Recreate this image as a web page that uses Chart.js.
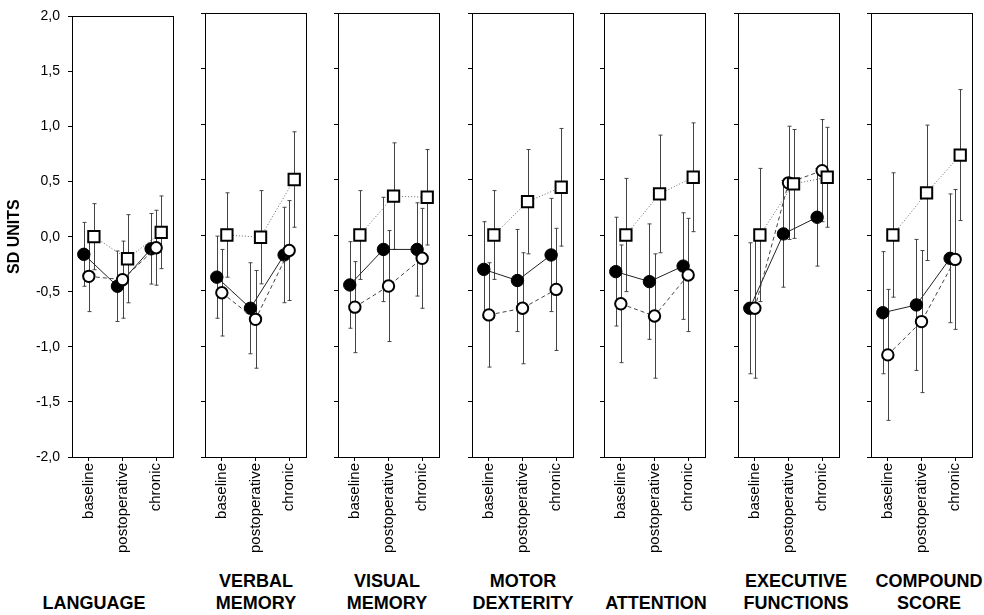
<!DOCTYPE html>
<html>
<head>
<meta charset="utf-8">
<script src="https://cdn.jsdelivr.net/npm/chart.js@4"></script>
<style>
  body { margin: 0; background: #fff; }
  #wrap { position: relative; width: 984px; height: 615px; overflow: hidden; }
  canvas { position: absolute; top: 0; }
  .dom { position: absolute; width: 160px; text-align: center; font: bold 18px "Liberation Sans", Arial, sans-serif; line-height: 22px; color: #000; }
</style>
</head>
<body>
<div id="wrap"></div>
<script>
const domains = [["LANGUAGE"], ["VERBAL", "MEMORY"], ["VISUAL", "MEMORY"], ["MOTOR", "DEXTERITY"], ["ATTENTION"], ["EXECUTIVE", "FUNCTIONS"], ["COMPOUND", "SCORE"]];
const phases = ["baseline", "postoperative", "chronic"];
const yTicks = [-2, -1.5, -1, -0.5, 0, 0.5, 1, 1.5, 2];

// filled circles, solid line
const filledMean = [[-0.16, -0.45, -0.11], [-0.38, -0.66, -0.18], [-0.45, -0.13, -0.13], [-0.31, -0.41, -0.18], [-0.33, -0.42, -0.28], [-0.66, 0.01, 0.16], [-0.70, -0.63, -0.21]];
const filledSD = [[0.29, 0.32, 0.32], [0.37, 0.41, 0.43], [0.39, 0.47, 0.42], [0.43, 0.46, 0.51], [0.49, 0.52, 0.48], [0.59, 0.48, 0.44], [0.55, 0.59, 0.58]];
// open circles, dashed line
const openMean = [[-0.36, -0.39, -0.10], [-0.52, -0.76, -0.14], [-0.65, -0.46, -0.21], [-0.72, -0.66, -0.49], [-0.62, -0.73, -0.36], [-0.66, 0.47, 0.58], [-1.08, -0.78, -0.22]];
const openSD = [[0.32, 0.35, 0.34], [0.39, 0.44, 0.45], [0.41, 0.50, 0.45], [0.47, 0.50, 0.55], [0.53, 0.56, 0.51], [0.63, 0.51, 0.46], [0.59, 0.64, 0.63]];
// open squares, dotted line
const squareMean = [[0.00, -0.20, 0.04], [0.00, -0.02, 0.50], [0.00, 0.35, 0.34], [0.00, 0.30, 0.43], [0.00, 0.37, 0.52], [0.00, 0.46, 0.52], [0.00, 0.38, 0.72]];
const squareSD = [[0.30, 0.40, 0.33], [0.38, 0.42, 0.43], [0.40, 0.48, 0.43], [0.40, 0.47, 0.53], [0.51, 0.53, 0.49], [0.60, 0.49, 0.45], [0.56, 0.61, 0.59]];

const FONT = '"Liberation Sans", Arial, sans-serif';
Chart.defaults.font.family = FONT;
Chart.defaults.color = "#000";

// layout
const panelLeft = [72, 205, 338, 472, 604, 738, 871];
const panelW = 105;
const titleCenter = [94, 256, 387, 523, 656, 796, 929];
const dodge = [-0.15, 0, 0.15];

const errorBars = {
  id: "errorBars",
  beforeDatasetsDraw(chart) {
    const ctx = chart.ctx;
    const ys = chart.scales.y;
    ctx.save();
    ctx.strokeStyle = "#444";
    ctx.lineWidth = 1;
    chart.data.datasets.forEach((ds, di) => {
      const meta = chart.getDatasetMeta(di);
      meta.data.forEach((pt, j) => {
        const v = ds.data[j].y, s = ds.sd[j];
        const x = Math.round(pt.x) + 0.5;
        const t = ys.getPixelForValue(v + s), b = ys.getPixelForValue(v - s);
        ctx.beginPath();
        ctx.moveTo(x, t); ctx.lineTo(x, b);
        ctx.moveTo(x - 2, t); ctx.lineTo(x + 2, t);
        ctx.moveTo(x - 2, b); ctx.lineTo(x + 2, b);
        ctx.stroke();
      });
    });
    ctx.restore();
  }
};

const wrap = document.getElementById("wrap");
const pts = (means, k) => means.map((v, j) => ({ x: j + dodge[k], y: v }));

domains.forEach((lines, i) => {
  const first = i === 0;
  const yW = first ? 72 : 12;
  const rW = 6;
  const cv = document.createElement("canvas");
  cv.width = yW + panelW + rW;
  cv.height = 560;
  cv.style.left = (panelLeft[i] - yW) + "px";
  wrap.appendChild(cv);

  const t = document.createElement("div");
  t.className = "dom";
  t.style.left = (titleCenter[i] - 80) + "px";
  t.style.top = (lines.length === 2 ? 570 : 592) + "px";
  t.innerHTML = lines.join("<br>");
  wrap.appendChild(t);

  new Chart(cv, {
    type: "line",
    data: {
      datasets: [
        {
          data: pts(squareMean[i], 2), sd: squareSD[i], order: 0,
          borderColor: "#666", borderWidth: 1, borderDash: [1, 2],
          pointStyle: "rect", pointRadius: 8, pointBorderWidth: 2,
          pointBackgroundColor: "#fff", pointBorderColor: "#000"
        },
        {
          data: pts(openMean[i], 1), sd: openSD[i], order: 1,
          borderColor: "#444", borderWidth: 1, borderDash: [4, 3],
          pointStyle: "circle", pointRadius: 5.7, pointBorderWidth: 2,
          pointBackgroundColor: "#fff", pointBorderColor: "#000"
        },
        {
          data: pts(filledMean[i], 0), sd: filledSD[i], order: 2,
          borderColor: "#222", borderWidth: 1,
          pointStyle: "circle", pointRadius: 6.2, pointBorderWidth: 1,
          pointBackgroundColor: "#000", pointBorderColor: "#000"
        }
      ]
    },
    options: {
      responsive: false,
      animation: false,
      layout: { padding: 0 },
      plugins: { legend: { display: false }, tooltip: { enabled: false } },
      scales: {
        x: {
          type: "linear", position: "bottom", min: -0.5, max: 2.5,
          afterBuildTicks: s => { s.ticks = phases.map((p, j) => ({ value: j })); },
          afterFit: s => { s.height = 103; },
          ticks: { autoSkip: false, minRotation: 90, maxRotation: 90, padding: 2, font: { size: 15 }, color: "#000", callback: v => phases[v] },
          grid: { display: true, drawOnChartArea: false, tickLength: 4, color: "#000" },
          border: { display: true, color: "#000", width: 1 }
        },
        x2: {
          type: "linear", position: "top", display: true,
          afterFit: s => { s.height = 13; },
          ticks: { display: false },
          grid: { display: false },
          border: { display: true, color: "#000", width: 1 }
        },
        y: {
          type: "linear", position: "left", min: -2, max: 2,
          afterBuildTicks: s => { s.ticks = yTicks.map(v => ({ value: v })); },
          afterFit: s => { s.width = yW; },
          ticks: { display: first, padding: 8, font: { size: 14 }, color: "#000", callback: v => v.toFixed(1).replace(".", ",") },
          grid: { display: true, drawOnChartArea: false, tickLength: 4, color: "#000" },
          border: { display: true, color: "#000", width: 1 },
          title: { display: first, text: "SD UNITS", font: { size: 16, weight: "bold" }, color: "#000", padding: { top: 5, bottom: 0 } }
        },
        y2: {
          type: "linear", position: "right", display: true,
          afterFit: s => { s.width = rW; },
          ticks: { display: false },
          grid: { display: false },
          border: { display: true, color: "#000", width: 1 }
        }
      }
    },
    plugins: [errorBars]
  });
});
</script>
</body>
</html>
